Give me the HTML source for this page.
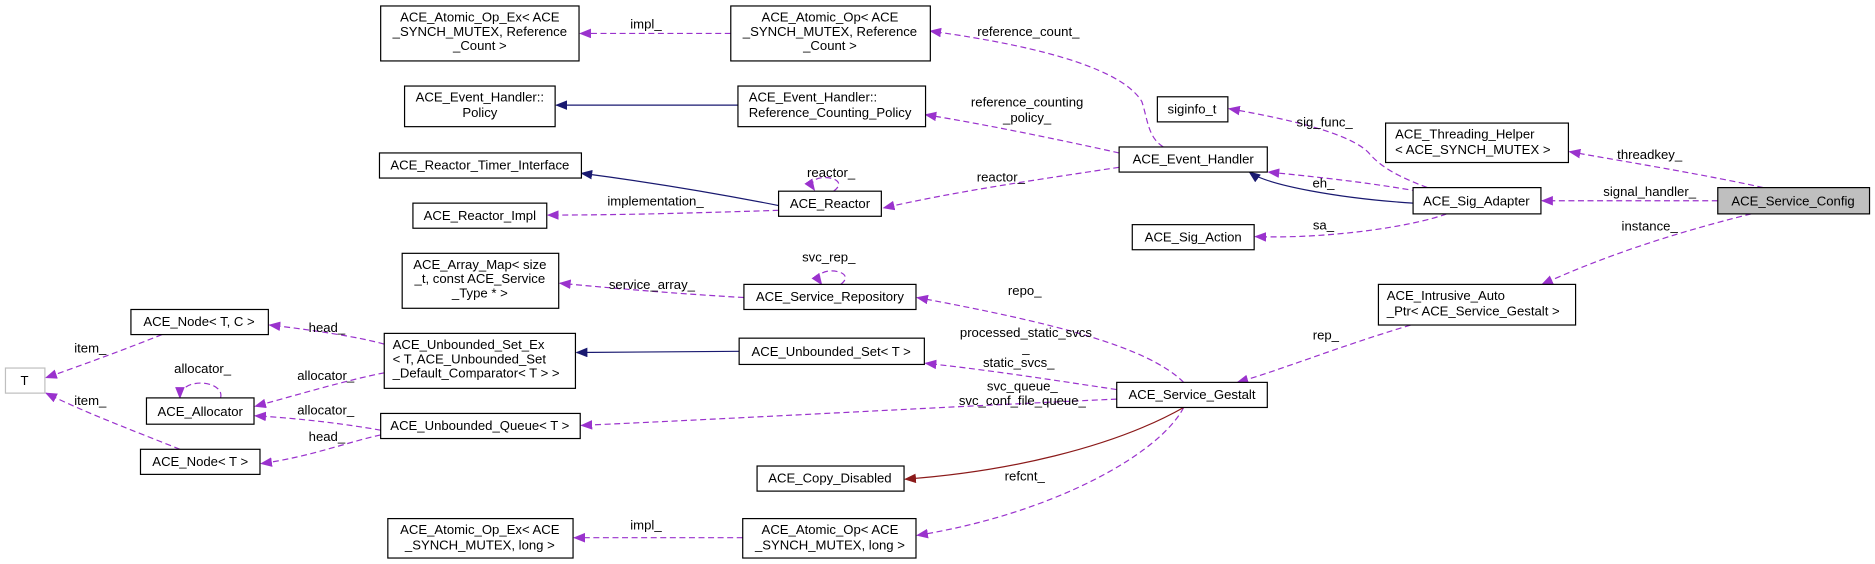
<!DOCTYPE html>
<html><head><meta charset="utf-8"><style>
html,body{margin:0;padding:0;background:#fff;}
svg{display:block;}
text{font-family:"Liberation Sans",sans-serif;font-size:11px;fill:#000;}
.b{fill:#fff;stroke:#000;stroke-width:1;}
.p{fill:none;stroke:#9a32cd;stroke-width:1;stroke-dasharray:5,3;}
.n{fill:none;stroke:#191970;stroke-width:1;}
.r{fill:none;stroke:#8b1a1a;stroke-width:1;}
</style></head><body>
<svg width="1875" height="564" viewBox="0 0 1568 472" xmlns="http://www.w3.org/2000/svg">
<defs>
<marker id="mp" markerWidth="10" markerHeight="8" refX="9" refY="4" orient="auto" markerUnits="userSpaceOnUse"><path d="M0,0L10,4L0,8z" fill="#9a32cd"/></marker>
<marker id="mn" markerWidth="10" markerHeight="8" refX="9" refY="4" orient="auto" markerUnits="userSpaceOnUse"><path d="M0,0L10,4L0,8z" fill="#191970"/></marker>
<marker id="mr" markerWidth="10" markerHeight="8" refX="9" refY="4" orient="auto" markerUnits="userSpaceOnUse"><path d="M0,0L10,4L0,8z" fill="#8b1a1a"/></marker>
</defs>
<g marker-end="url(#mp)">
<path class="p" d="M611,28L485,28"/>
<path class="p" d="M973,123C960,115 960,100 955,85C940,60 880,40 778,26"/>
<path class="p" d="M936,128C900,120 830,105 774,96"/>
<path class="p" d="M936,140C870,150 800,160 739,174"/>
<path class="p" d="M651,176C590,178 520,180 458,180"/>
<path class="p" d="M697,160C715,147 670,143 681,159"/>
<path class="p" d="M1194,157C1170,148 1155,140 1145,128C1130,112 1080,100 1028,91"/>
<path class="p" d="M1186,160C1140,152 1100,148 1061,144"/>
<path class="p" d="M1210,179C1180,190 1110,200 1050,198"/>
<path class="p" d="M1475,157C1430,147 1370,137 1313,127"/>
<path class="p" d="M1437,168L1290,168"/>
<path class="p" d="M1465,179C1400,195 1340,215 1290,238"/>
<path class="p" d="M1180,272C1120,290 1070,310 1035,320"/>
<path class="p" d="M990,320C960,290 880,270 767,249"/>
<path class="p" d="M703,238C720,225 675,221 687,238"/>
<path class="p" d="M622,249C570,246 520,242 468,237"/>
<path class="p" d="M934,326C880,318 830,310 774,304"/>
<path class="p" d="M934,334C800,340 620,350 486,356"/>
<path class="p" d="M990,341C970,380 880,430 767,448"/>
<path class="p" d="M621,450L480,450"/>
<path class="p" d="M321,288C300,282 260,276 225,272"/>
<path class="p" d="M321,312C290,318 250,330 213,340"/>
<path class="p" d="M318,360C290,355 250,350 213,348"/>
<path class="p" d="M318,364C290,370 260,382 218,388"/>
<path class="p" d="M135,280C110,290 70,305 38,316"/>
<path class="p" d="M150,376C110,360 70,345 38,329"/>
<path class="p" d="M184,333C188,318 150,315 150,333"/>
</g>
<path class="n" d="M617,88L465,88" marker-end="url(#mn)"/>
<path class="n" d="M651,172C600,162 540,152 486,145" marker-end="url(#mn)"/>
<path class="n" d="M1182,170C1120,166 1060,155 1045,144" marker-end="url(#mn)"/>
<path class="n" d="M618,294L482,295" marker-end="url(#mn)"/>
<path class="r" d="M990,341C930,375 840,395 757,401" marker-end="url(#mr)"/>

<rect class="b" x="318" y="5" width="166" height="46"/>
<text x="401" y="18" text-anchor="middle">ACE_Atomic_Op_Ex&lt; ACE</text>
<text x="401" y="30" text-anchor="middle">_SYNCH_MUTEX, Reference</text>
<text x="401" y="42" text-anchor="middle">_Count &gt;</text>
<rect class="b" x="611" y="5" width="167" height="46"/>
<text x="694" y="18" text-anchor="middle">ACE_Atomic_Op&lt; ACE</text>
<text x="694" y="30" text-anchor="middle">_SYNCH_MUTEX, Reference</text>
<text x="694" y="42" text-anchor="middle">_Count &gt;</text>
<rect class="b" x="338" y="72" width="126" height="34"/>
<text x="401" y="85" text-anchor="middle">ACE_Event_Handler::</text><text x="401" y="98" text-anchor="middle">Policy</text>
<rect class="b" x="617" y="72" width="157" height="34"/>
<text x="626" y="85">ACE_Event_Handler::</text><text x="626" y="98">Reference_Counting_Policy</text>
<rect class="b" x="968" y="81" width="59" height="21"/><text x="997" y="95" text-anchor="middle">siginfo_t</text>
<rect class="b" x="1159" y="103" width="153" height="33"/>
<text x="1167" y="116">ACE_Threading_Helper</text><text x="1167" y="129">&lt; ACE_SYNCH_MUTEX &gt;</text>
<rect class="b" x="317" y="128" width="169" height="21"/><text x="401" y="142" text-anchor="middle">ACE_Reactor_Timer_Interface</text>
<rect class="b" x="936" y="123" width="124" height="21"/><text x="998" y="137" text-anchor="middle">ACE_Event_Handler</text>
<rect class="b" x="651" y="160" width="86" height="21"/><text x="694" y="174" text-anchor="middle">ACE_Reactor</text>
<rect class="b" x="345" y="170" width="112" height="21"/><text x="401" y="184" text-anchor="middle">ACE_Reactor_Impl</text>
<rect class="b" x="1182" y="157" width="107" height="22"/><text x="1235" y="172" text-anchor="middle">ACE_Sig_Adapter</text>
<rect x="1437" y="157" width="127" height="22" fill="#bfbfbf" stroke="#000"/><text x="1500" y="172" text-anchor="middle">ACE_Service_Config</text>
<rect class="b" x="947" y="188" width="102" height="21"/><text x="998" y="202" text-anchor="middle">ACE_Sig_Action</text>
<rect class="b" x="336" y="212" width="131" height="46"/>
<text x="401" y="225" text-anchor="middle">ACE_Array_Map&lt; size</text><text x="401" y="237" text-anchor="middle">_t, const ACE_Service</text><text x="401" y="249" text-anchor="middle">_Type * &gt;</text>
<rect class="b" x="622" y="238" width="144" height="21"/><text x="694" y="252" text-anchor="middle">ACE_Service_Repository</text>
<rect class="b" x="1153" y="238" width="165" height="34"/>
<text x="1160" y="251">ACE_Intrusive_Auto</text><text x="1160" y="264">_Ptr&lt; ACE_Service_Gestalt &gt;</text>
<rect class="b" x="109" y="259" width="115" height="21"/><text x="166" y="273" text-anchor="middle">ACE_Node&lt; T, C &gt;</text>
<rect class="b" x="321" y="279" width="160" height="46"/>
<text x="328" y="292">ACE_Unbounded_Set_Ex</text><text x="328" y="304">&lt; T, ACE_Unbounded_Set</text><text x="328" y="316">_Default_Comparator&lt; T &gt; &gt;</text>
<rect class="b" x="618" y="283" width="155" height="22"/><text x="695" y="298" text-anchor="middle">ACE_Unbounded_Set&lt; T &gt;</text>
<rect x="4" y="308" width="33" height="21" fill="#fff" stroke="#bfbfbf"/><text x="20" y="322" text-anchor="middle">T</text>
<rect class="b" x="122" y="333" width="90" height="22"/><text x="167" y="348" text-anchor="middle">ACE_Allocator</text>
<rect class="b" x="934" y="320" width="126" height="21"/><text x="997" y="334" text-anchor="middle">ACE_Service_Gestalt</text>
<rect class="b" x="318" y="346" width="167" height="21"/><text x="401" y="360" text-anchor="middle">ACE_Unbounded_Queue&lt; T &gt;</text>
<rect class="b" x="117" y="376" width="100" height="21"/><text x="167" y="390" text-anchor="middle">ACE_Node&lt; T &gt;</text>
<rect class="b" x="633" y="390" width="123" height="21"/><text x="694" y="404" text-anchor="middle">ACE_Copy_Disabled</text>
<rect class="b" x="324" y="434" width="155" height="33"/>
<text x="401" y="447" text-anchor="middle">ACE_Atomic_Op_Ex&lt; ACE</text><text x="401" y="460" text-anchor="middle">_SYNCH_MUTEX, long &gt;</text>
<rect class="b" x="621" y="434" width="145" height="33"/>
<text x="694" y="447" text-anchor="middle">ACE_Atomic_Op&lt; ACE</text><text x="694" y="460" text-anchor="middle">_SYNCH_MUTEX, long &gt;</text>

<g text-anchor="middle">
<text x="540" y="24">impl_</text>
<text x="860" y="30">reference_count_</text>
<text x="859" y="89">reference_counting</text><text x="859" y="102">_policy_</text>
<text x="695" y="148">reactor_</text>
<text x="837" y="152">reactor_</text>
<text x="548" y="172">implementation_</text>
<text x="1108" y="106">sig_func_</text>
<text x="1107" y="157">eh_</text>
<text x="1107" y="192">sa_</text>
<text x="1380" y="133">threadkey_</text>
<text x="1380" y="164">signal_handler_</text>
<text x="1380" y="193">instance_</text>
<text x="1109" y="284">rep_</text>
<text x="857" y="247">repo_</text>
<text x="693" y="219">svc_rep_</text>
<text x="545" y="242">service_array_</text>
<text x="858" y="282">processed_static_svcs</text><text x="858" y="295">_</text><text x="852" y="307">static_svcs_</text>
<text x="855" y="327">svc_queue_</text><text x="855" y="339">svc_conf_file_queue_</text>
<text x="857" y="402">refcnt_</text>
<text x="540" y="443">impl_</text>
<text x="273" y="278">head_</text>
<text x="272" y="318">allocator_</text>
<text x="272" y="347">allocator_</text>
<text x="273" y="369">head_</text>
<text x="75" y="295">item_</text>
<text x="75" y="339">item_</text>
<text x="169" y="312">allocator_</text>
</g>
</svg>
</body></html>
